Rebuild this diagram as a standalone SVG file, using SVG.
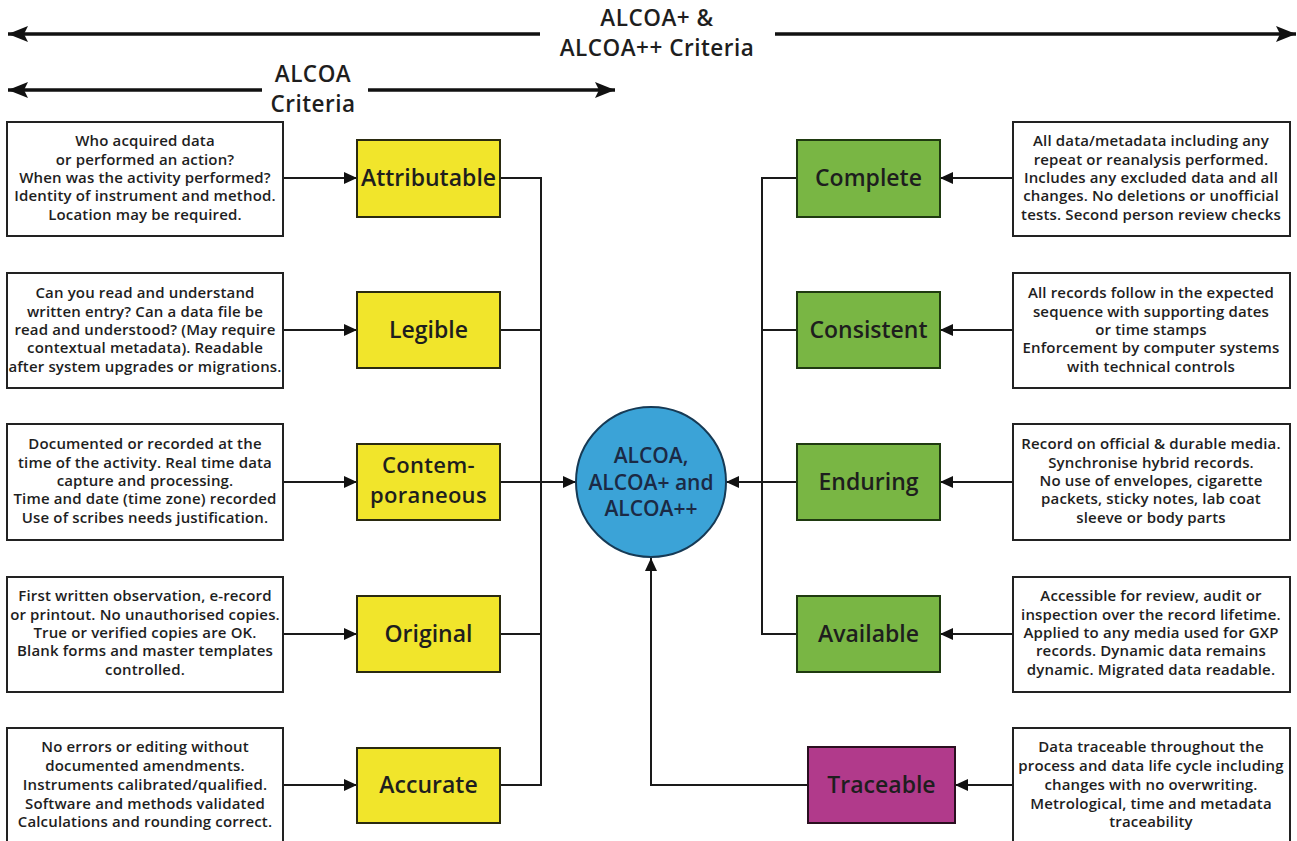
<svg xmlns="http://www.w3.org/2000/svg" width="1297" height="841" viewBox="0 0 1297 841">
<style>
text{font-family:"Open Sans","Noto Sans","Liberation Sans",sans-serif;font-weight:600;fill:#1e1e1e;text-anchor:middle}
.desc{font-size:15px;letter-spacing:0.15px}
.lab{font-size:23px}
.lab2{font-size:22px;letter-spacing:0.3px}
.title{font-size:22.5px;letter-spacing:0.5px}
.note{fill:#fff;stroke:#222;stroke-width:2}
.yel{fill:#f1e52b;stroke:#2a2a10;stroke-width:2}
.grn{fill:#79b644;stroke:#1f3a10;stroke-width:2}
.mag{fill:#b13a8b;stroke:#2a0f20;stroke-width:2}
.circ{fill:#3ba3d7;stroke:#163a55;stroke-width:2}
.ln{fill:none;stroke:#1a1a1a;stroke-width:2}
.big{fill:none;stroke:#111;stroke-width:3.5}
.ctext{font-size:21px;fill:#1b2a45}
</style>
<defs>
<marker id="ah" markerUnits="userSpaceOnUse" markerWidth="13" markerHeight="12" refX="13" refY="6" orient="auto"><path d="M0,0 L13,6 L0,12 z" fill="#111"/></marker>
<marker id="bh" markerUnits="userSpaceOnUse" markerWidth="20" markerHeight="16" refX="20" refY="8" orient="auto"><path d="M0,0 L20,8 L0,16 L4,8 z" fill="#111"/></marker>
</defs>
<rect width="1297" height="841" fill="#fff"/>
<g id="criteria-scales">
<line class="big" x1="540" y1="34" x2="8" y2="34" marker-end="url(#bh)"/>
<line class="big" x1="775" y1="34" x2="1296" y2="34" marker-end="url(#bh)"/>
<text class="title" x="657" y="26">ALCOA+ &amp;</text>
<text class="title" x="657" y="56">ALCOA++ Criteria</text>
<line class="big" x1="262" y1="90" x2="8" y2="90" marker-end="url(#bh)"/>
<line class="big" x1="368" y1="90" x2="615" y2="90" marker-end="url(#bh)"/>
<text class="title" x="313" y="82">ALCOA</text>
<text class="title" x="313" y="112">Criteria</text>
</g>
<g id="connectors">
<line class="ln" x1="283" y1="178" x2="357" y2="178" marker-end="url(#ah)"/>
<line class="ln" x1="283" y1="330" x2="357" y2="330" marker-end="url(#ah)"/>
<line class="ln" x1="283" y1="482" x2="357" y2="482" marker-end="url(#ah)"/>
<line class="ln" x1="283" y1="634" x2="357" y2="634" marker-end="url(#ah)"/>
<line class="ln" x1="283" y1="785" x2="357" y2="785" marker-end="url(#ah)"/>
<path class="ln" d="M500,178 H541 V785 H500"/>
<line class="ln" x1="500" y1="330" x2="541" y2="330"/>
<line class="ln" x1="500" y1="634" x2="541" y2="634"/>
<line class="ln" x1="500" y1="482" x2="576" y2="482" marker-end="url(#ah)"/>
<line class="ln" x1="1013" y1="178" x2="940" y2="178" marker-end="url(#ah)"/>
<line class="ln" x1="1013" y1="330" x2="940" y2="330" marker-end="url(#ah)"/>
<line class="ln" x1="1013" y1="482" x2="940" y2="482" marker-end="url(#ah)"/>
<line class="ln" x1="1013" y1="634" x2="940" y2="634" marker-end="url(#ah)"/>
<line class="ln" x1="1013" y1="785" x2="955" y2="785" marker-end="url(#ah)"/>
<path class="ln" d="M797,178 H762 V634 H797"/>
<line class="ln" x1="762" y1="330" x2="797" y2="330"/>
<line class="ln" x1="797" y1="482" x2="726" y2="482" marker-end="url(#ah)"/>
<path class="ln" d="M808,785 H651 V558" marker-end="url(#ah)"/>
</g>
<g id="center">
<circle class="circ" cx="651" cy="482" r="75"/>
<text class="ctext" x="651" y="463">ALCOA,</text>
<text class="ctext" x="651" y="490">ALCOA+ and</text>
<text class="ctext" x="651" y="516">ALCOA++</text>
</g>
<g id="attributable">
<rect class="note" x="7" y="122" width="276" height="114"/>
<text class="desc" x="145" y="146">Who acquired data</text>
<text class="desc" x="145" y="165">or performed an action?</text>
<text class="desc" x="145" y="183">When was the activity performed?</text>
<text class="desc" x="145" y="201">Identity of instrument and method.</text>
<text class="desc" x="145" y="220">Location may be required.</text>
<rect class="yel" x="357" y="140" width="143" height="77"/>
<text class="lab" x="428.5" y="186">Attributable</text>
</g>
<g id="legible">
<rect class="note" x="7" y="273" width="276" height="115"/>
<text class="desc" x="145" y="298">Can you read and understand</text>
<text class="desc" x="145" y="317">written entry? Can a data file be</text>
<text class="desc" x="145" y="335">read and understood? (May require</text>
<text class="desc" x="145" y="353">contextual metadata). Readable</text>
<text class="desc" x="145" y="372">after system upgrades or migrations.</text>
<rect class="yel" x="357" y="292" width="143" height="76"/>
<text class="lab" x="428.5" y="338">Legible</text>
</g>
<g id="contemporaneous">
<rect class="note" x="7" y="424" width="276" height="116"/>
<text class="desc" x="145" y="449">Documented or recorded at the</text>
<text class="desc" x="145" y="468">time of the activity. Real time data</text>
<text class="desc" x="145" y="486">capture and processing.</text>
<text class="desc" x="145" y="504">Time and date (time zone) recorded</text>
<text class="desc" x="145" y="523">Use of scribes needs justification.</text>
<rect class="yel" x="357" y="444" width="143" height="76"/>
<text class="lab2" x="428.5" y="473">Contem-</text>
<text class="lab2" x="428.5" y="503">poraneous</text>
</g>
<g id="original">
<rect class="note" x="7" y="577" width="276" height="115"/>
<text class="desc" x="145" y="601">First written observation, e-record</text>
<text class="desc" x="145" y="620">or printout. No unauthorised copies.</text>
<text class="desc" x="145" y="638">True or verified copies are OK.</text>
<text class="desc" x="145" y="656">Blank forms and master templates</text>
<text class="desc" x="145" y="675">controlled.</text>
<rect class="yel" x="357" y="596" width="143" height="76"/>
<text class="lab" x="428.5" y="642">Original</text>
</g>
<g id="accurate">
<rect class="note" x="7" y="728" width="276" height="114"/>
<text class="desc" x="145" y="752">No errors or editing without</text>
<text class="desc" x="145" y="771">documented amendments.</text>
<text class="desc" x="145" y="790">Instruments calibrated/qualified.</text>
<text class="desc" x="145" y="809">Software and methods validated</text>
<text class="desc" x="145" y="827">Calculations and rounding correct.</text>
<rect class="yel" x="357" y="748" width="143" height="75"/>
<text class="lab" x="428.5" y="793">Accurate</text>
</g>
<g id="complete">
<rect class="grn" x="797" y="140" width="143" height="77"/>
<text class="lab" x="868.5" y="186">Complete</text>
<rect class="note" x="1013" y="122" width="277" height="114"/>
<text class="desc" x="1151" y="146">All data/metadata including any</text>
<text class="desc" x="1151" y="165">repeat or reanalysis performed.</text>
<text class="desc" x="1151" y="183">Includes any excluded data and all</text>
<text class="desc" x="1151" y="201">changes. No deletions or unofficial</text>
<text class="desc" x="1151" y="220">tests. Second person review checks</text>
</g>
<g id="consistent">
<rect class="grn" x="797" y="292" width="143" height="76"/>
<text class="lab" x="868.5" y="338">Consistent</text>
<rect class="note" x="1013" y="273" width="277" height="115"/>
<text class="desc" x="1151" y="298">All records follow in the expected</text>
<text class="desc" x="1151" y="317">sequence with supporting dates</text>
<text class="desc" x="1151" y="335">or time stamps</text>
<text class="desc" x="1151" y="353">Enforcement by computer systems</text>
<text class="desc" x="1151" y="372">with technical controls</text>
</g>
<g id="enduring">
<rect class="grn" x="797" y="444" width="143" height="76"/>
<text class="lab" x="868.5" y="490">Enduring</text>
<rect class="note" x="1013" y="424" width="277" height="116"/>
<text class="desc" x="1151" y="449">Record on official &amp; durable media.</text>
<text class="desc" x="1151" y="468">Synchronise hybrid records.</text>
<text class="desc" x="1151" y="486">No use of envelopes, cigarette</text>
<text class="desc" x="1151" y="504">packets, sticky notes, lab coat</text>
<text class="desc" x="1151" y="523">sleeve or body parts</text>
</g>
<g id="available">
<rect class="grn" x="797" y="596" width="143" height="76"/>
<text class="lab" x="868.5" y="642">Available</text>
<rect class="note" x="1013" y="577" width="277" height="115"/>
<text class="desc" x="1151" y="601">Accessible for review, audit or</text>
<text class="desc" x="1151" y="620">inspection over the record lifetime.</text>
<text class="desc" x="1151" y="638">Applied to any media used for GXP</text>
<text class="desc" x="1151" y="656">records. Dynamic data remains</text>
<text class="desc" x="1151" y="675">dynamic. Migrated data readable.</text>
</g>
<g id="traceable">
<rect class="mag" x="808" y="747" width="147" height="76"/>
<text class="lab" x="881.5" y="793">Traceable</text>
<rect class="note" x="1013" y="728" width="277" height="114"/>
<text class="desc" x="1151" y="752">Data traceable throughout the</text>
<text class="desc" x="1151" y="771">process and data life cycle including</text>
<text class="desc" x="1151" y="790">changes with no overwriting.</text>
<text class="desc" x="1151" y="809">Metrological, time and metadata</text>
<text class="desc" x="1151" y="827">traceability</text>
</g>
</svg>
